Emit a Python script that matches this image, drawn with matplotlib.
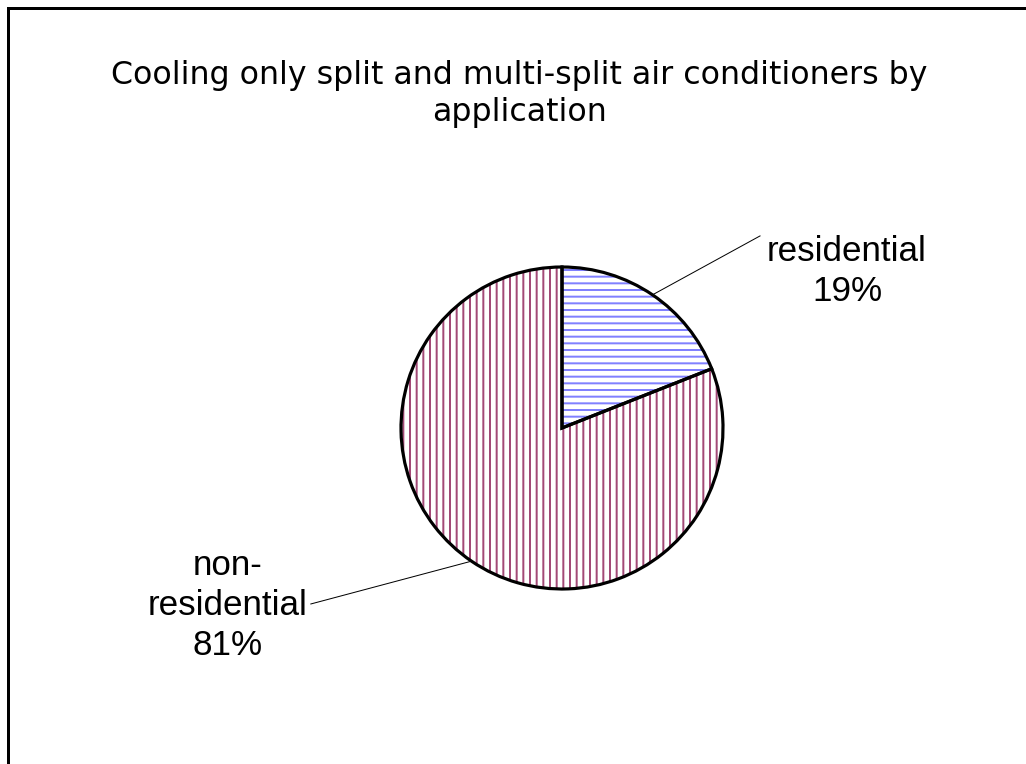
import numpy as np
import matplotlib
matplotlib.use("Agg")
import matplotlib.pyplot as plt
from matplotlib.patches import Rectangle

# data
categories = ["residential", "non-\nresidential"]
shares = [19, 81]
hatch_colors = ["#8080ff", "#a34a77"]
hatches = ["---", "|||"]
title = "Cooling only split and multi-split air conditioners by\napplication"

DPI = 120
W, H = 1026, 764
fig = plt.figure(figsize=(W / DPI, H / DPI), dpi=DPI)
plt.rcParams["hatch.linewidth"] = 1.2

# pie centre (562, 428) px, radius 161 px
cx, cy, r = 562, 428, 161
ax = fig.add_axes([(cx - r) / W, (H - cy - r) / H, 2 * r / W, 2 * r / H])

# hatched fill layer
wedges, _ = ax.pie(shares, startangle=90, counterclock=False, colors=["white", "white"])
for w, c, h in zip(wedges, hatch_colors, hatches):
    w.set_edgecolor(c)
    w.set_hatch(h)
    w.set_linewidth(0)

# outline layer
outline, _ = ax.pie(shares, startangle=90, counterclock=False,
                    wedgeprops=dict(facecolor="none", edgecolor="black", linewidth=1.9))
ax.set_xlim(-1, 1)
ax.set_ylim(-1, 1)
ax.set_aspect("equal")

# labels with leader lines
label_pos = [(1.77, 0.97), (-2.075, -1.1)]
line_end = [(1.23, 1.193), (-1.56, -1.093)]
for w, cat, s, tp, le in zip(wedges, categories, shares, label_pos, line_end):
    mid = np.deg2rad((w.theta1 + w.theta2) / 2)
    x0, y0 = np.cos(mid), np.sin(mid)
    ax.plot([x0, le[0]], [y0, le[1]], color="black", linewidth=0.6, clip_on=False)
    ax.text(tp[0], tp[1], f"{cat}\n{s}%", ha="center", va="center", multialignment="center",
            fontsize=21, family="Liberation Sans", linespacing=1.27, clip_on=False)

fig.text(0.506, 1 - 94 / H, title, ha="center", va="center", multialignment="center",
         fontsize=19, family="DejaVu Sans", linespacing=1.25)

# chart border (right and bottom run off the image)
fig.patches.append(Rectangle((8 / W, -0.1), 1.2, 1 - 8 / H + 0.1, transform=fig.transFigure,
                             fill=False, edgecolor="black", linewidth=1.8))

fig.savefig("out.png", dpi=DPI)
